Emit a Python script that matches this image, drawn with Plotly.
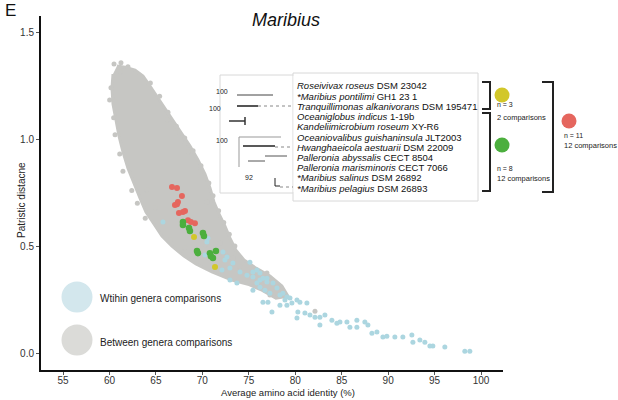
import plotly.graph_objects as go

# ---------------- data ----------------
# envelope of the dense "between genera" cloud (AAI %, patristic distance)
cloud_x = [60.81, 61.67, 62.75, 63.61, 64.36, 65.22, 66.08, 66.94, 67.80, 68.67, 69.53, 70.28,
           70.82, 71.25, 71.79, 72.43, 72.97, 73.61, 74.48, 75.77, 77.27, 78.56, 79.21, 77.92,
           76.41, 74.91, 73.18, 71.03, 69.31, 68.02, 66.73, 65.65, 64.79, 63.93, 63.29, 62.64,
           61.99, 61.46, 61.03, 60.70, 60.38, 60.27, 60.38]
cloud_y = [1.341, 1.336, 1.322, 1.294, 1.248, 1.192, 1.136, 1.079, 1.023, 0.967, 0.902, 0.836,
           0.771, 0.706, 0.650, 0.593, 0.537, 0.481, 0.435, 0.397, 0.360, 0.313, 0.266, 0.257,
           0.294, 0.322, 0.341, 0.379, 0.416, 0.453, 0.500, 0.547, 0.603, 0.659, 0.724, 0.790,
           0.864, 0.939, 1.014, 1.089, 1.164, 1.238, 1.304]

# scattered between-genera points at the cloud edge
between_x = [61.13, 60.60, 66.19, 67.05, 68.13, 68.45, 69.74, 70.49, 64.04, 64.90, 66.51,
             68.13, 68.88, 70.28, 71.89, 72.43, 73.29, 74.05, 74.80, 75.66, 76.95, 77.49, 77.81,
             75.44, 76.20, 75.98, 77.49, 77.81, 77.27, 82.12,
             60.16, 60.02, 60.45, 60.60, 61.10, 61.45, 62.40, 63.00, 63.85,
             64.40, 65.40, 66.30, 67.20, 68.10, 69.00, 69.85, 70.70, 71.15, 71.75, 72.30,
             72.90, 73.50, 60.49, 61.24, 61.99]
between_y = [1.313, 1.173, 1.089, 1.028, 0.981, 0.939, 0.846, 0.706, 0.762, 0.678, 0.528,
             0.491, 0.449, 0.505, 0.514, 0.472, 0.444, 0.402, 0.388, 0.364, 0.374, 0.341, 0.308,
             0.374, 0.379, 0.332, 0.294, 0.280, 0.271, 0.196,
             1.240, 1.182, 1.100, 1.020, 0.930, 0.850, 0.760, 0.700, 0.630,
             1.262, 1.200, 1.125, 1.060, 1.005, 0.945, 0.875, 0.795, 0.735, 0.665, 0.610,
             0.555, 0.500, 1.351, 1.357, 1.338]

within_x = [65.76, 70.49, 70.60, 70.28, 72.22, 72.43, 72.65, 72.97, 72.11, 73.29, 75.12, 74.05,
            74.80, 75.44, 76.20, 76.95, 75.87, 77.60, 72.97, 73.72, 75.44, 75.87, 76.20, 76.52,
            76.95, 75.44, 76.20, 76.74, 77.27, 78.03, 78.35, 78.67, 79.10, 78.89, 79.43, 76.52,
            77.06, 78.35, 79.10, 79.64, 80.18, 80.50, 81.25, 77.49, 80.28, 80.18, 81.04, 81.58,
            82.12, 82.65, 83.19, 82.65, 83.94, 84.48, 84.81, 85.56, 85.88, 86.63, 86.63, 87.49,
            87.82, 88.25, 88.79, 89.43, 89.86, 90.72, 91.58, 92.55, 92.66, 93.41, 93.95, 94.49,
            94.81, 96.10, 98.25, 98.79]
within_y = [0.612, 0.519, 0.537, 0.458, 0.472, 0.435, 0.449, 0.397, 0.388, 0.421, 0.425, 0.379,
            0.364, 0.355, 0.341, 0.350, 0.327, 0.327, 0.341, 0.327, 0.379, 0.388, 0.374, 0.350,
            0.332, 0.294, 0.308, 0.294, 0.280, 0.304, 0.271, 0.280, 0.262, 0.248, 0.257, 0.238,
            0.238, 0.224, 0.224, 0.234, 0.248, 0.238, 0.234, 0.192, 0.192, 0.164, 0.187, 0.178,
            0.168, 0.168, 0.178, 0.131, 0.154, 0.140, 0.145, 0.145, 0.121, 0.154, 0.121, 0.145,
            0.131, 0.093, 0.098, 0.075, 0.079, 0.075, 0.075, 0.084, 0.051, 0.061, 0.051, 0.033,
            0.033, 0.028, 0.009, 0.009]

red_x = [66.73, 67.27, 67.80, 67.37, 67.27, 67.05, 68.13, 67.91, 67.48, 68.45, 68.77, 69.20]
red_y = [0.776, 0.771, 0.734, 0.706, 0.696, 0.692, 0.664, 0.659, 0.654, 0.621, 0.612, 0.607]
green_x = [67.91, 67.91, 68.56, 68.66, 70.06, 70.17, 69.42, 69.52, 70.81, 70.92, 71.14, 71.46]
green_y = [0.612, 0.598, 0.584, 0.570, 0.561, 0.547, 0.477, 0.467, 0.467, 0.453, 0.444, 0.477]
yellow_x = [69.10, 71.36]
yellow_y = [0.542, 0.402]

x_ticks = [55, 60, 65, 70, 75, 80, 85, 90, 95, 100]
y_ticks = [0.0, 0.5, 1.0, 1.5]

taxa = ["<i>Roseivivax roseus</i> DSM 23042",
        "<i>*Maribius pontilimi</i> GH1 23 1",
        "<i>Tranquillimonas alkanivorans</i> DSM 195471",
        "<i>Oceaniglobus indicus</i> 1-19b",
        "<i>Kandeliimicrobium roseum</i> XY-R6",
        "<i>Oceaniovalibus guishaninsula</i> JLT2003",
        "<i>Hwanghaeicola aestuarii</i> DSM 22009",
        "<i>Palleronia abyssalis</i> CECT 8504",
        "<i>Palleronia marisminoris</i> CECT 7066",
        "<i>*Maribius salinus</i> DSM 26892",
        "<i>*Maribius pelagius</i> DSM 26893"]
bootstrap = [("100", 222, 91), ("100", 215, 109), ("100", 222, 140), ("92", 249, 177)]

# ---------------- colours ----------------
C_GRAY = "#c6c6c3"
C_BLUE = "#acd6e0"
C_RED = "#e5665e"
C_GREEN = "#4caf3e"
C_YEL = "#d2c72a"
FONT = "Liberation Sans, Arial, sans-serif"

# plot-area pixel geometry (for layout items)
L, R, T, B = 41, 503, 16, 370
def px(x):
    return (x - L) / (R - L)
def py(y):
    return (B - y) / (B - T)

fig = go.Figure()
fig.add_trace(go.Scatter(x=cloud_x, y=cloud_y, mode="lines", fill="toself",
                         fillcolor=C_GRAY, line=dict(color=C_GRAY, width=3),
                         hoverinfo="skip", showlegend=False))
fig.add_trace(go.Scatter(x=between_x, y=between_y, mode="markers",
                         marker=dict(color=C_GRAY, size=5), showlegend=False))
fig.add_trace(go.Scatter(x=within_x, y=within_y, mode="markers",
                         marker=dict(color=C_BLUE, size=5), showlegend=False))
fig.add_trace(go.Scatter(x=red_x, y=red_y, mode="markers",
                         marker=dict(color=C_RED, size=6), showlegend=False))
fig.add_trace(go.Scatter(x=green_x, y=green_y, mode="markers",
                         marker=dict(color=C_GREEN, size=6.5), showlegend=False))
fig.add_trace(go.Scatter(x=yellow_x, y=yellow_y, mode="markers",
                         marker=dict(color=C_YEL, size=6), showlegend=False))

shapes = []
ann = []

def line(x0, y0, x1, y1, color="#222", width=1, dash=None):
    d = dict(type="line", xref="paper", yref="paper", x0=px(x0), y0=py(y0),
             x1=px(x1), y1=py(y1), line=dict(color=color, width=width))
    if dash:
        d["line"]["dash"] = dash
    shapes.append(d)

def text(s, x, y, size=10, xanchor="left", yanchor="middle", color="#222", angle=0):
    ann.append(dict(text=s, x=px(x), y=py(y), xref="paper", yref="paper",
                    xanchor=xanchor, yanchor=yanchor, showarrow=False, textangle=angle,
                    font=dict(size=size, color=color, family=FONT)))

def circle(cx, cy, r, color):
    shapes.append(dict(type="circle", xref="paper", yref="paper",
                       x0=px(cx - r), x1=px(cx + r), y0=py(cy + r), y1=py(cy - r),
                       fillcolor=color, line=dict(width=0)))

# inset boxes
shapes.append(dict(type="rect", xref="paper", yref="paper", x0=px(220), x1=px(294),
                   y0=py(193), y1=py(75), fillcolor="white", line=dict(color="#d8d8d8", width=1)))
shapes.append(dict(type="rect", xref="paper", yref="paper", x0=px(293), x1=px(478),
                   y0=py(201), y1=py(73), fillcolor="white", line=dict(color="#d8d8d8", width=1)))
shapes.append(dict(type="rect", xref="paper", yref="paper", x0=px(293.5), x1=px(295),
                   y0=py(192), y1=py(76), fillcolor="white", line=dict(width=0)))

# tree
line(237, 95, 273, 95, "#444", 1)
line(237, 106, 258, 106, "#555", 2)
line(258, 106, 293, 106, "#888", 1, "dot")
line(229, 121, 245, 121, "#333", 1.5)
line(245, 117, 245, 125, "#333", 1.5)
line(239, 137, 239, 167, "#999", 1)
line(239, 137, 281, 137, "#999", 1)
line(243, 146, 275, 146, "#222", 1.5)
line(275, 147, 293, 147, "#888", 1, "dot")
line(265, 156, 287, 156, "#555", 1)
line(248, 161, 265, 161, "#555", 1)
line(275, 178, 275, 186, "#222", 1)
line(275, 186, 280, 186, "#222", 1)
line(280, 187, 293, 187, "#888", 1, "dot")
for lab, bx, by in bootstrap:
    text(lab, bx, by, size=7, xanchor="center")

for i, t in enumerate(taxa):
    text(t, 295, 86 + i * 10.2, size=9.5, color="#111")

# brackets
def bracket(x0, x1, y0, y1):
    line(x0, y0, x1, y0, "#222", 2)
    line(x1, y0 - 1, x1, y1 + 1, "#222", 2)
    line(x0, y1, x1, y1, "#222", 2)

bracket(482, 490, 82, 109)
bracket(482, 490, 113, 191)
bracket(542, 553, 82, 192)
circle(502, 95, 7.5, C_YEL)
text("n = 3", 495, 104, size=7)
text("2 comparisons", 495, 117, size=7.5)
circle(502, 145, 7.5, C_GREEN)
text("n = 8", 495, 168, size=7)
text("12 comparisons", 495, 178, size=7.5)
circle(569, 121, 7.5, C_RED)
text("n = 11", 562, 135, size=7)
text("12 comparisons", 562, 145, size=7.5)

# bottom-left legend
circle(77, 297, 15.5, "#d3e7ed")
circle(77, 340, 15.5, "#dbdbd8")
text("Wtihin genera comparisons", 98, 298, size=10, color="#222")
text("Between genera comparisons", 98, 342, size=10, color="#222")

# titles
text("E", 3, 11, size=17, color="#111")
text("<i>Maribius</i>", 286, 20, size=18, xanchor="center", color="#111")
text("Average amino acid identity (%)", 288, 393, size=9.5, xanchor="center", color="#222")
text("Patristic distacne", 21, 200, size=10, xanchor="center", color="#222", angle=-90)

fig.update_layout(
    width=618, height=400,
    margin=dict(l=L, r=618 - R, t=T, b=400 - B),
    paper_bgcolor="white", plot_bgcolor="white",
    shapes=shapes, annotations=ann,
    font=dict(family=FONT, size=10, color="#333"),
    xaxis=dict(range=[52.63, 102.36], tickvals=x_ticks, showgrid=False, zeroline=False,
               showline=True, linecolor="#111", linewidth=2, ticks="outside", ticklen=3,
               tickcolor="#555", tickfont=dict(size=10, color="#333"), ticklabelstandoff=-3),
    yaxis=dict(range=[-0.079, 1.575], tickvals=y_ticks, tickformat=".1f", showgrid=False,
               zeroline=False, showline=True, linecolor="#111", linewidth=2, ticks="outside",
               ticklen=3, tickcolor="#555", tickfont=dict(size=10, color="#333")),
)

fig.write_html("out.html")
